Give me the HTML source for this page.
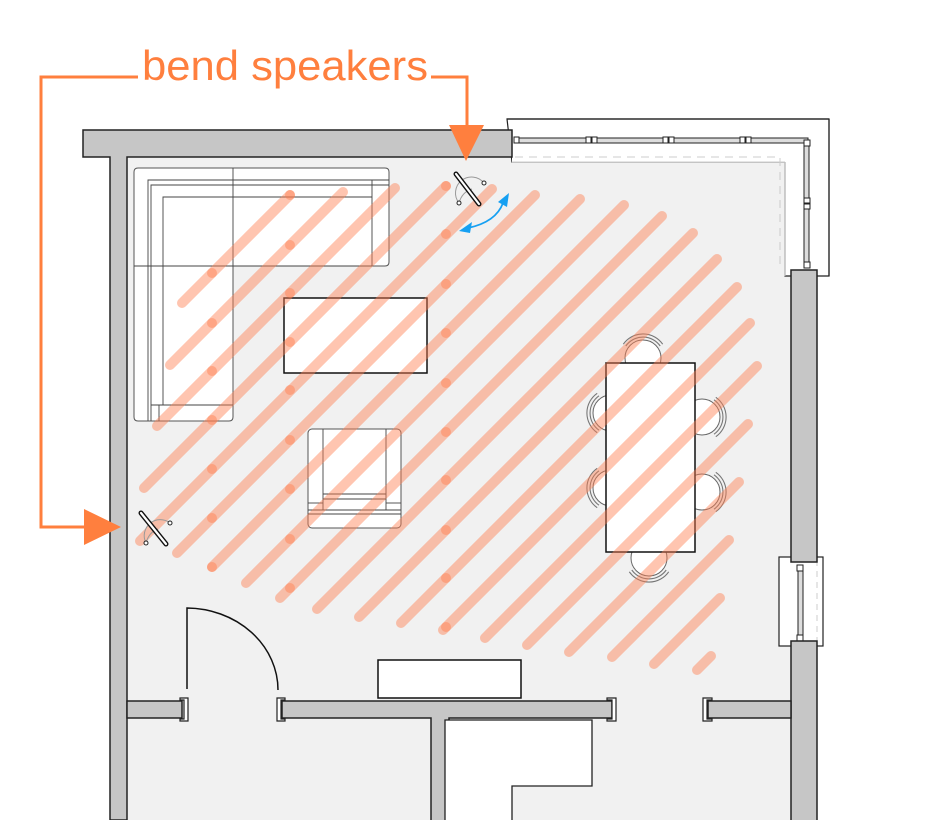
<!DOCTYPE html>
<html><head><meta charset="utf-8"><style>
html,body{margin:0;padding:0;background:#fff;}
svg{display:block;}
</style></head><body>
<svg width="938" height="820" viewBox="0 0 938 820" xmlns="http://www.w3.org/2000/svg">
<rect x="127" y="157" width="664" height="663" fill="#f1f1f1"/>
<rect x="779" y="557" width="44" height="89" fill="#fff" stroke="#222" stroke-width="1.2"/>
<path d="M507 119 H829 V276 H785 V162 H512 Z" fill="#fff" stroke="#222" stroke-width="1.2"/>
<rect x="512" y="130" width="300" height="32" fill="#fff"/>
<line x1="507" y1="119" x2="829" y2="119" stroke="#222" stroke-width="1.2"/>
<line x1="829" y1="119" x2="829" y2="276" stroke="#222" stroke-width="1.2"/>
<path d="M515 157 H780 V268" fill="none" stroke="#ccc" stroke-width="1" stroke-dasharray="8,6"/>
<line x1="512" y1="162" x2="785" y2="162" stroke="#ccc" stroke-width="1"/>
<line x1="785" y1="162" x2="785" y2="276" stroke="#ccc" stroke-width="1"/>
<rect x="515" y="138" width="293" height="5" fill="#ddd" stroke="#222" stroke-width="1"/>
<rect x="804" y="140" width="5" height="128" fill="#ddd" stroke="#222" stroke-width="1"/>
<g fill="#fff" stroke="#222" stroke-width="1">
<rect x="514" y="137" width="5" height="6"/><rect x="586" y="137" width="5" height="6"/><rect x="592" y="137" width="5" height="6"/>
<rect x="663" y="137" width="5" height="6"/><rect x="669" y="137" width="5" height="6"/><rect x="740" y="137" width="5" height="6"/><rect x="746" y="137" width="5" height="6"/>
<rect x="804" y="140" width="6" height="6"/><rect x="804" y="198" width="6" height="5"/><rect x="804" y="204" width="6" height="5"/><rect x="804" y="262" width="6" height="6"/>
</g>
<rect x="798" y="568" width="5" height="70" fill="#ddd" stroke="#222" stroke-width="1"/>
<line x1="817" y1="560" x2="817" y2="643" stroke="#ccc" stroke-dasharray="6,5"/>
<g fill="#fff" stroke="#222" stroke-width="1"><rect x="797" y="565" width="6" height="6"/><rect x="797" y="635" width="6" height="6"/></g>
<g fill="#c6c6c6" stroke="#222" stroke-width="1.5">
<path d="M83 130 H512 V157 H127 V820 H110 V157 H83 Z"/>
<rect x="791" y="270" width="26" height="292"/>
<rect x="791" y="641" width="26" height="185"/>
<path d="M127 701 H182 V718 H127 Z"/>
<path d="M282 701 H612 V718 H449 V825 H431 V718 H282 Z"/>
<path d="M708 701 H791 V718 H708 Z"/>
</g>
<g fill="#fff" stroke="#222" stroke-width="1.2">
<path d="M180 698 H188 V721 H180 V719 H184 V700 H180 Z"/>
<path d="M285 698 H277 V721 H285 V719 H281 V700 H285 Z"/>
<path d="M607 698 H616 V721 H607 V719 H612 V700 H607 Z"/>
<path d="M712 698 H703 V721 H712 V719 H707 V700 H712 Z"/>
</g>
<path d="M445 720 H592 V786 H512 V821 H445 Z" fill="#fff" stroke="#222" stroke-width="1.3"/>
<path d="M187 689 V608 A92 82 0 0 1 278 690" fill="none" stroke="#111" stroke-width="1.5"/>
<g fill="#fff" stroke="#555" stroke-width="1">
<path d="M138 168 H385 Q389 168 389 172 V262 Q389 266 385 266 H233 V417 Q233 421 229 421 H138 Q134 421 134 417 V172 Q134 168 138 168 Z"/>
</g>
<g fill="none" stroke="#444" stroke-width="0.9">
<line x1="233" y1="168" x2="233" y2="266"/>
<line x1="134" y1="266" x2="372" y2="266"/>
<path d="M148 421 V180 H389"/>
<path d="M151 421 V185 H389"/>
<path d="M163 405 V197 H372"/>
<line x1="372" y1="180" x2="372" y2="266"/>
<line x1="151" y1="405" x2="233" y2="405"/>
<line x1="159" y1="405" x2="159" y2="421"/>
</g>
<rect x="284" y="298" width="143" height="75" fill="#fff" stroke="#111" stroke-width="1.5"/>
<rect x="308" y="429" width="93" height="99" rx="4" fill="#fff" stroke="#555" stroke-width="1"/>
<g fill="none" stroke="#444" stroke-width="0.9">
<line x1="323" y1="429" x2="323" y2="510"/><line x1="386" y1="429" x2="386" y2="510"/>
<line x1="323" y1="494" x2="386" y2="494"/><line x1="323" y1="499" x2="386" y2="499"/>
<line x1="308" y1="503" x2="323" y2="503"/><line x1="386" y1="503" x2="401" y2="503"/>
<line x1="308" y1="510" x2="401" y2="510"/><line x1="308" y1="514" x2="401" y2="514"/>
</g>
<g fill="#fff" stroke="#666" stroke-width="1">
<circle cx="643" cy="358" r="18"/>
<circle cx="649" cy="558" r="18"/>
<circle cx="611" cy="413" r="18"/>
<circle cx="611" cy="488" r="18"/>
<circle cx="702" cy="417" r="18"/>
<circle cx="702" cy="492" r="18"/>
</g>
<g fill="none" stroke="#777" stroke-width="1.1">
<path d="M625.8 346 A21 21 0 0 1 660.2 346"/><path d="M623.3 344.2 A24 24 0 0 1 662.7 344.2"/>
<path d="M631.8 570 A21 21 0 0 0 666.2 570"/><path d="M629.3 571.8 A24 24 0 0 0 668.7 571.8"/>
<path d="M599 395.8 A21 21 0 0 0 599 430.2"/><path d="M597.2 393.3 A24 24 0 0 0 597.2 432.7"/>
<path d="M599 470.8 A21 21 0 0 0 599 505.2"/><path d="M597.2 468.3 A24 24 0 0 0 597.2 507.7"/>
<path d="M714 399.8 A21 21 0 0 1 714 434.2"/><path d="M715.8 397.3 A24 24 0 0 1 715.8 436.7"/>
<path d="M714 474.8 A21 21 0 0 1 714 509.2"/><path d="M715.8 472.3 A24 24 0 0 1 715.8 511.7"/>
</g>
<rect x="606" y="363" width="89" height="189" fill="#fff" stroke="#111" stroke-width="1.5"/>
<rect x="378" y="660" width="143" height="38" fill="#fff" stroke="#111" stroke-width="1.5"/>
<g stroke="#ff7f50" stroke-opacity="0.45" stroke-width="10" stroke-linecap="round">
<line x1="182" y1="303" x2="290" y2="195"/>
<line x1="170" y1="365" x2="343" y2="192"/>
<line x1="157" y1="426" x2="395" y2="188"/>
<line x1="144" y1="488" x2="446" y2="186"/>
<line x1="140" y1="541" x2="492" y2="189"/>
<line x1="177" y1="553" x2="535" y2="195"/>
<line x1="212" y1="567" x2="580" y2="199"/>
<line x1="246" y1="583" x2="624" y2="205"/>
<line x1="280" y1="598" x2="662" y2="216"/>
<line x1="317" y1="609" x2="693" y2="233"/>
<line x1="359" y1="617" x2="717" y2="259"/>
<line x1="401" y1="623" x2="737" y2="287"/>
<line x1="443" y1="630" x2="750" y2="323"/>
<line x1="485" y1="638" x2="757" y2="366"/>
<line x1="527" y1="645" x2="748" y2="424"/>
<line x1="569" y1="652" x2="739" y2="482"/>
<line x1="612" y1="657" x2="729" y2="540"/>
<line x1="654" y1="664" x2="720" y2="598"/>
<line x1="697" y1="670" x2="711" y2="656"/>
</g>
<g fill="#ff7f50" fill-opacity="0.45">
<circle cx="212" cy="273" r="5"/><circle cx="212" cy="323" r="5"/><circle cx="212" cy="371" r="5"/><circle cx="212" cy="420" r="5"/><circle cx="212" cy="469" r="5"/><circle cx="212" cy="518" r="5"/><circle cx="212" cy="567" r="5"/>
<circle cx="290" cy="195" r="5"/><circle cx="290" cy="245" r="5"/><circle cx="290" cy="293" r="5"/><circle cx="290" cy="342" r="5"/><circle cx="290" cy="390" r="5"/><circle cx="290" cy="440" r="5"/><circle cx="290" cy="489" r="5"/><circle cx="290" cy="539" r="5"/><circle cx="290" cy="588" r="5"/>
<circle cx="446" cy="186" r="5"/><circle cx="446" cy="234" r="5"/><circle cx="446" cy="284" r="5"/><circle cx="446" cy="333" r="5"/><circle cx="446" cy="383" r="5"/><circle cx="446" cy="432" r="5"/><circle cx="446" cy="480" r="5"/><circle cx="446" cy="530" r="5"/><circle cx="446" cy="578" r="5"/><circle cx="446" cy="627" r="5"/>
</g>
<g fill="none" stroke="#999" stroke-width="1">
<path d="M459 203 A16 16 0 0 1 484 183"/>
<path d="M459 203 Q462 192 472 189"/>
<path d="M146 543 A16 16 0 0 1 170 523"/>
<path d="M146 543 Q149 532 158 529"/>
</g>
<g stroke="#111" stroke-width="5" stroke-linecap="round"><line x1="456" y1="174" x2="479" y2="204"/><line x1="141" y1="513" x2="166" y2="544"/></g>
<g stroke="#fff" stroke-width="2.2" stroke-linecap="round"><line x1="456" y1="174" x2="479" y2="204"/><line x1="141" y1="513" x2="166" y2="544"/></g>
<g fill="#fff" stroke="#222" stroke-width="1"><circle cx="459" cy="203" r="2"/><circle cx="484" cy="183" r="2"/><circle cx="146" cy="543" r="2"/><circle cx="170" cy="523" r="2"/></g>
<path d="M468 228 Q496 222 503 203" fill="none" stroke="#16a0f2" stroke-width="1.8"/>
<path d="M459 231 L472 222 L470 233 Z" fill="#16a0f2"/>
<path d="M509 193 L498 202 L507 207 Z" fill="#16a0f2"/>
<g stroke="#ff7f3e" stroke-width="3" fill="none">
<polyline points="138,77 41,77 41,527 88,527"/>
<polyline points="431,77 467,77 467,128"/>
</g>
<path d="M84 509 L121 527 L84 545 Z" fill="#ff7f3e"/>
<path d="M449 125 L484 125 L466 161 Z" fill="#ff7f3e"/>
<text x="142" y="80" font-family="Liberation Sans, DejaVu Sans, sans-serif" font-size="42" fill="#ff7f3e" textLength="286" lengthAdjust="spacingAndGlyphs">bend speakers</text>
</svg>
</body></html>
